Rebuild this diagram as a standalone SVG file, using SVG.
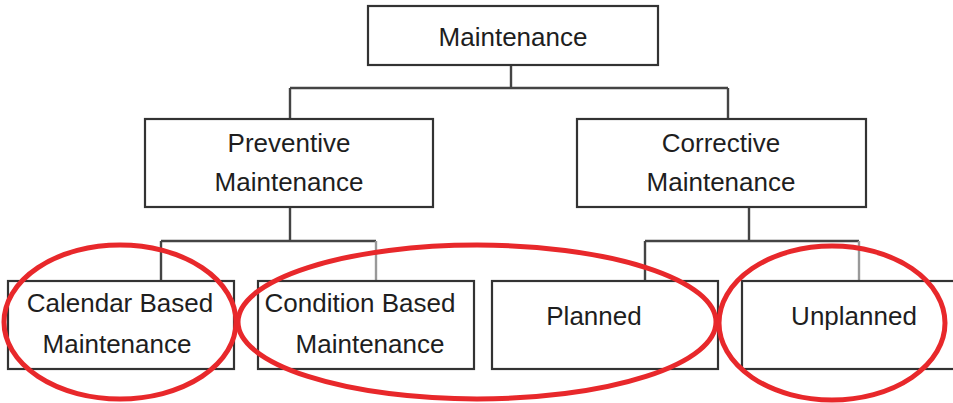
<svg xmlns="http://www.w3.org/2000/svg" width="953" height="403" viewBox="0 0 953 403">
<style>
.box{fill:#fff;stroke:#333;stroke-width:2.2}
.t{font-family:"Liberation Sans",Arial,sans-serif;font-size:26px;fill:#1e1e1e;text-anchor:middle}
.c{fill:none;stroke:#444;stroke-width:2.4}
.cl{fill:none;stroke:#999;stroke-width:2.4}
.hl{fill:none;stroke:#e8282b;stroke-width:5}
</style>
<rect width="953" height="403" fill="#fff"/>
<g id="connectors">
<path class="c" d="M511 65V88M290 88H728M290 88V119M728 88V119"/>
<path class="c" d="M290 207V241M161 241H376M161 241V281"/>
<path class="cl" d="M376 241V281"/>
<path class="c" d="M749 207V241M645 241H859M645 241V281"/>
<path class="cl" d="M859 241V281"/>
</g>
<g id="maintenance"><rect class="box" x="368" y="6" width="290" height="59"/><text class="t" x="513" y="46">Maintenance</text></g>
<g id="preventive"><rect class="box" x="145" y="119" width="288" height="88"/><text class="t" x="289" y="152">Preventive</text><text class="t" x="289" y="191">Maintenance</text></g>
<g id="corrective"><rect class="box" x="577" y="119" width="289" height="88"/><text class="t" x="721" y="152">Corrective</text><text class="t" x="721" y="191">Maintenance</text></g>
<g id="calendar"><rect class="box" x="8" y="281" width="226" height="88"/><text class="t" x="120" y="312">Calendar Based</text><text class="t" x="117" y="353">Maintenance</text></g>
<g id="condition"><rect class="box" x="258" y="281" width="216" height="88"/><text class="t" x="360" y="312">Condition Based</text><text class="t" x="370" y="353">Maintenance</text></g>
<g id="planned"><rect class="box" x="492" y="281" width="226" height="88"/><text class="t" x="594" y="325">Planned</text></g>
<g id="unplanned"><rect class="box" x="742" y="281" width="220" height="88"/><text class="t" x="854" y="325">Unplanned</text></g>
<g id="highlights">
<ellipse class="hl" cx="120" cy="322" rx="116" ry="77"/>
<ellipse class="hl" cx="477" cy="322" rx="239" ry="77"/>
<ellipse class="hl" cx="832" cy="323" rx="113" ry="77"/>
</g>
</svg>
